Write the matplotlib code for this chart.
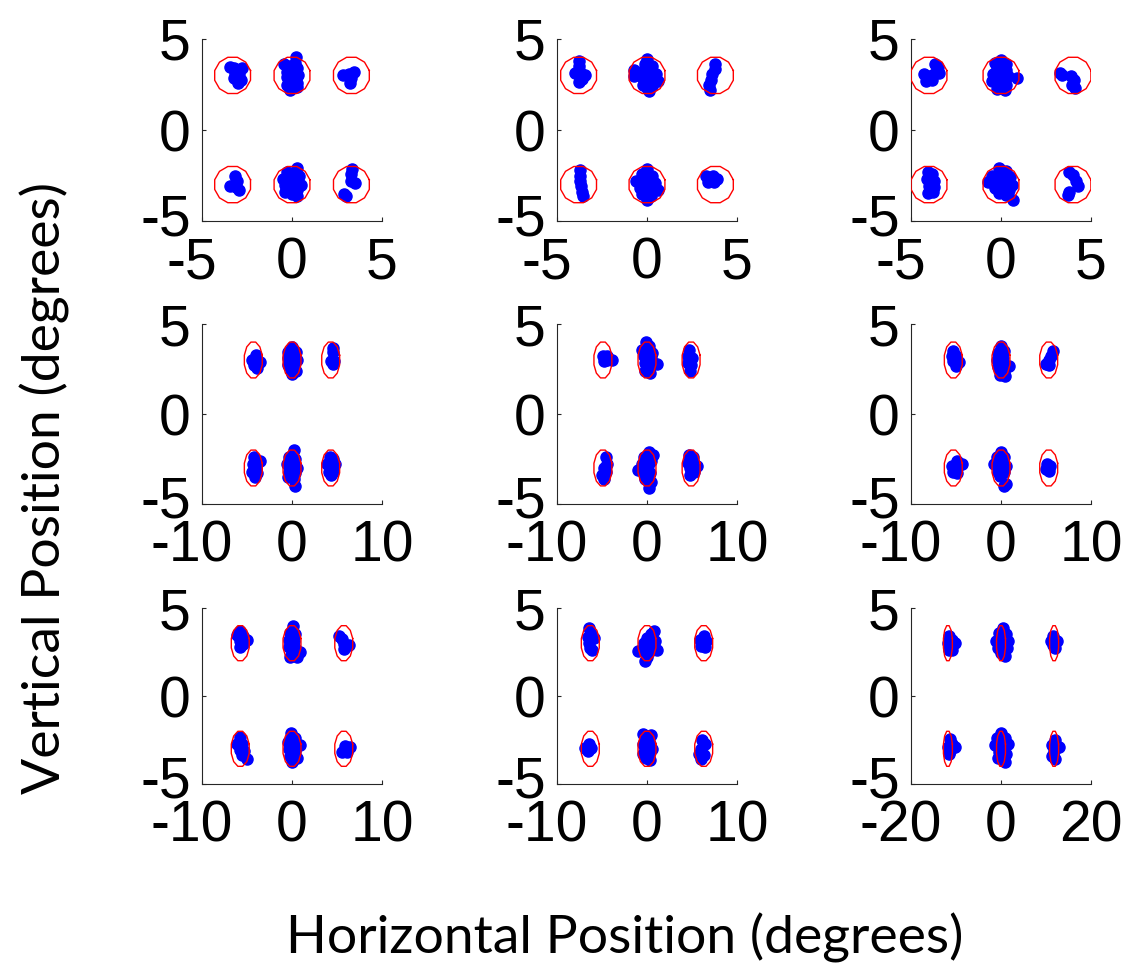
import matplotlib.pyplot as plt
import matplotlib.transforms as mtransforms
import numpy as np

# panel settings (row-major, 3x3)
x_limits = [5, 5, 5, 10, 10, 10, 10, 10, 20]
target_x = [3.3, 3.8, 4.0, 4.3, 4.9, 5.3, 5.75, 6.3, 11.8]
target_y = 3.0
target_radius = 1.03

# eye-position samples per panel (degrees)
dots_1 = [(-3.45, 3.45), (-3.2, 3.4), (-2.8, 3.4), (-3.15, 3.15), (-2.95, 3.1), (-3.2, 2.85), (-3.0, 2.6), (-2.85, 2.75),
          (0.2, 4.0), (0.15, 3.7), (-0.45, 3.6), (-0.2, 3.5), (0.3, 3.4), (-0.3, 3.2), (0.1, 3.2), (0.35, 3.0),
          (-0.3, 2.9), (0.0, 2.8), (0.3, 2.6), (-0.3, 2.5), (0.0, 2.4), (0.25, 2.35), (-0.1, 2.2),
          (2.85, 3.0), (3.15, 3.05), (3.45, 3.2), (3.3, 2.85), (3.2, 2.6),
          (-3.15, -2.5), (-3.05, -2.8), (-3.45, -3.05), (-3.2, -3.0), (-2.95, -3.3), (-3.1, -3.15),
          (0.25, -2.1), (-0.3, -2.3), (0.1, -2.4), (0.4, -2.5), (-0.5, -2.7), (-0.1, -2.7), (0.3, -2.8), (-0.4, -3.0),
          (0.1, -3.0), (0.5, -3.0), (-0.2, -3.2), (0.3, -3.3), (-0.4, -3.4), (0.0, -3.5), (0.3, -3.6),
          (3.35, -2.15), (3.3, -2.4), (3.25, -2.8), (3.5, -2.9), (2.9, -3.5), (3.0, -3.6)]
dots_2 = [(-3.8, 3.8), (-3.8, 3.5), (-4.0, 3.15), (-3.7, 3.2), (-3.45, 3.0), (-3.6, 2.8), (-3.8, 2.65),
          (0.0, 3.9), (-0.1, 3.6), (0.3, 3.5), (-0.7, 3.3), (-0.35, 3.2), (0.1, 3.2), (0.5, 3.1), (-0.7, 2.95),
          (-0.3, 2.9), (0.2, 2.8), (0.6, 2.7), (-0.2, 2.5), (0.3, 2.4), (0.1, 2.15), (0.0, 2.3),
          (3.8, 3.65), (3.75, 3.35), (3.6, 3.05), (3.55, 2.75), (3.45, 2.45), (3.5, 2.2),
          (-3.75, -2.2), (-3.7, -2.5), (-3.75, -2.8), (-3.65, -3.1), (-3.6, -3.4), (-3.55, -3.65),
          (0.0, -2.15), (-0.3, -2.4), (0.3, -2.5), (-0.6, -2.8), (-0.1, -2.8), (0.45, -2.9), (-0.4, -3.2),
          (0.2, -3.2), (0.6, -3.3), (-0.3, -3.5), (0.2, -3.6), (0.0, -3.85),
          (3.3, -2.55), (3.65, -2.55), (3.9, -2.7), (3.4, -2.85), (3.7, -2.85)]
dots_3 = [(-3.65, 3.65), (-3.5, 3.45), (-3.45, 3.15), (-3.75, 3.1), (-4.0, 2.95), (-4.3, 3.1), (-4.15, 2.7), (-3.85, 2.75),
          (0.0, 3.85), (-0.35, 3.7), (0.25, 3.6), (-0.2, 3.4), (0.3, 3.3), (-0.45, 3.1), (0.0, 3.0), (0.4, 2.95),
          (0.9, 2.85), (-0.5, 2.7), (-0.1, 2.6), (0.3, 2.5), (-0.2, 2.25), (0.2, 2.2),
          (3.3, 3.15), (3.4, 3.0), (3.9, 2.95), (4.05, 2.75), (3.95, 2.5), (4.1, 2.3),
          (-4.05, -2.3), (-3.85, -2.4), (-4.1, -2.7), (-3.7, -2.8), (-4.0, -3.05), (-3.75, -3.15), (-4.05, -3.45), (-3.8, -3.4),
          (-0.1, -2.1), (0.3, -2.25), (-0.5, -2.5), (0.0, -2.5), (0.5, -2.6), (-0.7, -2.85), (-0.25, -2.8), (0.2, -2.85),
          (0.6, -3.0), (-0.35, -3.2), (0.1, -3.2), (0.45, -3.3), (-0.1, -3.45), (0.3, -3.55), (0.65, -3.85),
          (3.8, -2.3), (4.0, -2.45), (4.15, -2.8), (4.25, -3.05), (3.7, -3.55), (3.75, -3.4)]
dots_4 = [(-4.0, 3.3), (-4.5, 3.0), (-4.0, 3.0), (-3.6, 2.9), (-4.2, 2.7), (-3.9, 2.55),
          (0.0, 3.75), (-0.4, 3.45), (0.4, 3.45), (-0.5, 3.1), (0.1, 3.1), (0.6, 3.0), (-0.4, 2.75), (0.2, 2.7),
          (-0.1, 2.4), (0.4, 2.4), (0.0, 2.2),
          (4.6, 3.65), (4.5, 3.45), (4.3, 2.95), (4.7, 2.95), (4.5, 2.8),
          (-4.2, -2.4), (-3.6, -2.6), (-4.3, -2.8), (-4.0, -3.0), (-4.4, -3.2), (-3.9, -3.3), (-4.1, -3.5),
          (0.2, -2.0), (-0.3, -2.4), (0.3, -2.5), (-0.6, -2.8), (0.1, -2.8), (0.6, -3.0), (-0.3, -3.2), (0.3, -3.3),
          (-0.4, -3.5), (0.2, -3.6), (0.3, -4.0),
          (4.2, -2.4), (4.6, -2.5), (3.9, -2.8), (4.4, -2.9), (4.8, -2.8), (4.1, -3.2), (4.5, -3.2), (4.3, -3.4)]
dots_5 = [(-4.9, 3.2), (-4.5, 3.25), (-4.8, 2.95), (-4.4, 3.0), (-3.9, 3.0),
          (-0.1, 4.0), (0.2, 3.8), (-0.6, 3.55), (0.0, 3.5), (0.5, 3.4), (-0.3, 3.2), (0.4, 3.1), (1.1, 2.8),
          (-0.2, 2.85), (0.3, 2.6), (-0.2, 2.4), (0.3, 2.3),
          (4.7, 3.55), (4.6, 3.2), (5.0, 3.1), (4.6, 2.85), (4.9, 2.7), (4.8, 2.4),
          (-4.6, -2.4), (-4.5, -2.75), (-4.8, -3.0), (-4.6, -3.2), (-5.0, -3.4), (-4.8, -3.6),
          (0.2, -2.1), (0.7, -2.3), (-0.3, -2.4), (0.4, -2.6), (-0.6, -2.8), (0.1, -2.9), (-1.0, -3.1), (-0.3, -3.2),
          (0.3, -3.3), (-0.2, -3.6), (0.4, -3.8), (0.2, -4.1),
          (4.7, -2.25), (5.1, -2.4), (4.5, -2.7), (5.0, -2.7), (5.6, -2.9), (4.8, -3.0), (5.2, -3.2), (4.8, -3.4)]
dots_6 = [(-5.3, 3.5), (-5.5, 3.2), (-5.0, 3.2), (-5.3, 2.95), (-4.7, 2.9), (-5.0, 2.65),
          (0.0, 3.8), (0.3, 3.5), (-0.3, 3.4), (0.2, 3.1), (-0.4, 3.0), (0.1, 2.8), (0.9, 2.65), (-0.3, 2.6),
          (0.3, 2.4), (-0.1, 2.15), (0.4, 2.1),
          (5.8, 3.5), (5.5, 3.25), (5.3, 3.0), (5.0, 2.8), (5.3, 2.7),
          (-4.9, -2.6), (-5.4, -2.9), (-4.8, -2.9), (-4.3, -2.8), (-5.3, -3.2), (-4.9, -3.3),
          (0.0, -2.1), (-0.4, -2.4), (0.3, -2.4), (-0.8, -2.8), (-0.1, -2.8), (0.6, -2.9), (-0.3, -3.2), (0.3, -3.2),
          (-0.1, -3.45), (0.5, -3.9), (0.3, -4.0),
          (5.1, -2.8), (5.4, -2.9), (5.0, -3.05), (5.3, -3.15)]
dots_7 = [(-5.8, 3.7), (-6.1, 3.45), (-5.5, 3.4), (-5.0, 3.2), (-5.8, 3.1), (-5.4, 2.95), (-5.8, 2.8),
          (0.1, 3.95), (-0.2, 3.6), (0.3, 3.5), (-0.3, 3.2), (0.2, 3.1), (-0.3, 2.8), (0.3, 2.7), (0.9, 2.5),
          (0.0, 2.4), (0.5, 2.2), (-0.2, 2.2),
          (5.2, 3.4), (5.6, 3.25), (5.8, 2.95), (6.3, 2.9), (5.8, 2.65),
          (-5.8, -2.35), (-6.1, -2.7), (-5.6, -2.7), (-5.8, -3.05), (-5.3, -3.1), (-5.6, -3.35), (-5.0, -3.6),
          (-0.1, -2.1), (0.3, -2.4), (-0.4, -2.6), (0.2, -2.7), (0.9, -2.8), (-0.3, -3.0), (0.3, -3.1), (-0.2, -3.4),
          (0.5, -3.5), (0.0, -3.75),
          (5.9, -2.85), (6.4, -2.9), (5.5, -3.2), (6.1, -3.2)]
dots_8 = [(-6.5, 3.85), (-6.2, 3.55), (-6.6, 3.35), (-5.9, 3.3), (-6.5, 3.0), (-6.3, 2.75), (-6.1, 2.6),
          (0.8, 3.7), (0.4, 3.5), (0.0, 3.3), (0.9, 3.1), (-0.3, 3.0), (0.4, 2.9), (-1.0, 2.55), (-0.3, 2.6),
          (0.2, 2.5), (0.0, 2.2), (-0.2, 2.0), (1.1, 2.6),
          (6.3, 3.4), (5.9, 3.2), (6.5, 3.1), (6.0, 2.85), (6.4, 2.8),
          (-6.5, -2.7), (-6.9, -2.95), (-6.2, -2.95), (-6.6, -3.1),
          (-0.4, -2.15), (0.4, -2.2), (0.0, -2.4), (-0.5, -2.7), (0.3, -2.7), (-0.2, -3.0), (0.5, -3.0), (-0.4, -3.3),
          (0.2, -3.3), (-0.1, -3.55), (0.3, -3.65),
          (6.1, -2.5), (6.4, -2.75), (6.0, -3.0), (5.8, -3.3), (6.3, -3.35), (6.0, -3.6)]
dots_9 = [(-11.5, 3.4), (-11.0, 3.2), (-11.8, 3.0), (-10.3, 3.0), (-11.2, 2.8), (-11.6, 2.6), (-10.8, 2.6),
          (0.5, 3.85), (-0.5, 3.6), (1.2, 3.5), (0.0, 3.3), (-1.2, 3.1), (1.5, 3.1), (0.5, 2.9), (-0.7, 2.7),
          (1.3, 2.7), (0.0, 2.45), (0.8, 2.3),
          (11.6, 3.4), (11.2, 3.1), (12.4, 3.1), (11.6, 2.9), (11.9, 2.7),
          (-11.4, -2.45), (-11.0, -2.75), (-11.8, -2.9), (-10.2, -2.9), (-11.3, -3.15), (-11.5, -3.3),
          (0.0, -2.1), (-0.8, -2.4), (0.8, -2.4), (1.5, -2.7), (-1.3, -2.8), (0.2, -2.9), (-0.4, -3.2), (1.2, -3.3),
          (0.3, -3.6), (-0.6, -3.5), (0.9, -3.75),
          (11.9, -2.5), (11.4, -2.8), (12.8, -2.9), (11.7, -3.1), (11.3, -3.4), (12.0, -3.6)]
all_dots = [dots_1, dots_2, dots_3, dots_4, dots_5, dots_6, dots_7, dots_8, dots_9]

fig = plt.figure(figsize=(11.27, 9.69), dpi=100)
col_left = [202, 557, 911]
row_top = [39, 324, 608]
row_h = [182, 180, 176]
W, H = 1127, 969

ang = np.deg2rad(np.arange(15, 375 + 1, 30))  # closed 12-gon
tick_font = dict(family="Liberation Sans", size=41)
shift_left = mtransforms.ScaledTranslation(-10 / 100, 0, fig.dpi_scale_trans)
shift_up = mtransforms.ScaledTranslation(0, 7 / 100, fig.dpi_scale_trans)

for i in range(9):
    r, c = divmod(i, 3)
    ax = fig.add_axes([col_left[c] / W, 1 - (row_top[r] + row_h[r]) / H, 180 / W, row_h[r] / H])
    pts = np.array(all_dots[i])
    ax.plot(pts[:, 0], pts[:, 1], "o", color="#0000ff", mec="#0000ff", ms=8, zorder=2)
    for tx in (-target_x[i], 0, target_x[i]):
        for ty in (-target_y, target_y):
            ax.plot(tx + target_radius * np.cos(ang), ty + target_radius * np.sin(ang),
                    color="#ff0000", lw=1.0, zorder=3)
    lim = x_limits[i]
    ax.set_xlim(-lim, lim)
    ax.set_ylim(-5, 5)
    ax.set_xticks([-lim, 0, lim])
    ax.set_yticks([-5, 0, 5])
    ax.set_xticklabels([str(-lim), "0", str(lim)], fontdict=tick_font)
    ax.set_yticklabels(["-5", "0", "5"], fontdict=tick_font)
    for s in ("top", "right"):
        ax.spines[s].set_visible(False)
    for s in ("left", "bottom"):
        ax.spines[s].set_color("#262626")
        ax.spines[s].set_linewidth(0.8)
    ax.tick_params(direction="in", length=3, width=0.8, color="#262626")
    ax.tick_params(axis="x", pad=11)
    ax.tick_params(axis="y", pad=8)
    neg = ax.get_xticklabels()[0]
    neg.set_transform(neg.get_transform() + shift_left)
    low = ax.get_yticklabels()[0]
    low.set_transform(low.get_transform() + shift_up)

fig.text(625 / W, 1 - 938 / H, "Horizontal Position (degrees)", ha="center", va="center",
         family="Lato", fontsize=38.5)
fig.text(45 / W, 1 - 488 / H, "Vertical Position (degrees)", ha="center", va="center",
         rotation=90, family="Lato", fontsize=38.5)

fig.savefig("out.png", dpi=100)
